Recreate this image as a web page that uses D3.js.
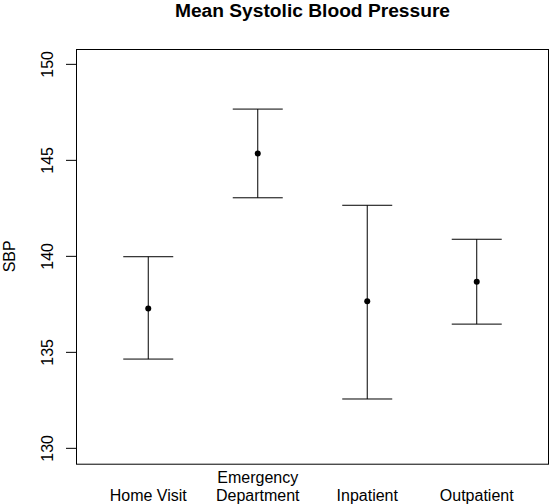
<!DOCTYPE html>
<html><head><meta charset="utf-8">
<script src="https://cdn.jsdelivr.net/npm/d3@7"></script>
<style>body{margin:0;background:#fff}svg{display:block;font-family:"Liberation Sans",Arial,sans-serif}</style>
</head><body><svg id="c" width="551" height="504"></svg>
<script>
const categories = ["Home Visit", "Emergency\nDepartment", "Inpatient", "Outpatient"];
const means = [137.29, 145.36, 137.66, 138.68];
const lower = [134.65, 143.05, 132.57, 136.47];
const upper = [139.98, 147.67, 142.66, 140.89];
const yTicks = [130, 135, 140, 145, 150];

const svg = d3.select("#c");
const L = 76, R = 549, T = 49, B = 463.7;
const x = d3.scaleLinear().domain([0.5 - 0.16, 4.5 + 0.16]).range([L, R]);
const y = d3.scaleLinear().domain([130 - 0.8, 150 + 0.8]).range([B, T]);

// box
svg.append("rect").attr("x", L + 0.5).attr("y", T + 0.5).attr("width", R - L - 1).attr("height", B - T)
  .attr("fill", "none").attr("stroke", "#000").attr("stroke-width", 1);

// y axis
const ya = svg.append("g");
ya.append("line").attr("x1", L + 0.5).attr("x2", L + 0.5).attr("y1", y(130)).attr("y2", y(150)).attr("stroke", "#000");
yTicks.forEach(t => {
  ya.append("line").attr("x1", L - 10).attr("x2", L).attr("y1", y(t)).attr("y2", y(t)).attr("stroke", "#000");
  ya.append("text").attr("transform", `translate(53,${y(t)}) rotate(-90)`).attr("text-anchor", "middle")
    .attr("font-size", 16).text(t);
});

// y label
svg.append("text").attr("transform", `translate(15,${(T + B) / 2}) rotate(-90)`).attr("text-anchor", "middle")
  .attr("font-size", 16).text("SBP");

// title
svg.append("text").attr("x", (L + R) / 2).attr("y", 17).attr("text-anchor", "middle")
  .attr("font-size", 19.2).attr("font-weight", "bold").text("Mean Systolic Blood Pressure");

// x labels
categories.forEach((c, i) => {
  const lines = c.split("\n");
  lines.forEach((ln, j) => {
    svg.append("text").attr("x", x(i + 1)).attr("y", 501 - (lines.length - 1 - j) * 18)
      .attr("text-anchor", "middle").attr("font-size", 16).text(ln);
  });
});

// error bars
const g = svg.append("g").attr("stroke", "#000").attr("stroke-width", 1);
means.forEach((m, i) => {
  const cx = x(i + 1);
  g.append("line").attr("x1", cx).attr("x2", cx).attr("y1", y(lower[i])).attr("y2", y(upper[i]));
  g.append("line").attr("x1", cx - 25).attr("x2", cx + 25).attr("y1", y(lower[i])).attr("y2", y(lower[i]));
  g.append("line").attr("x1", cx - 25).attr("x2", cx + 25).attr("y1", y(upper[i])).attr("y2", y(upper[i]));
  svg.append("circle").attr("cx", cx).attr("cy", y(m)).attr("r", 3).attr("fill", "#000");
});
</script></body></html>
